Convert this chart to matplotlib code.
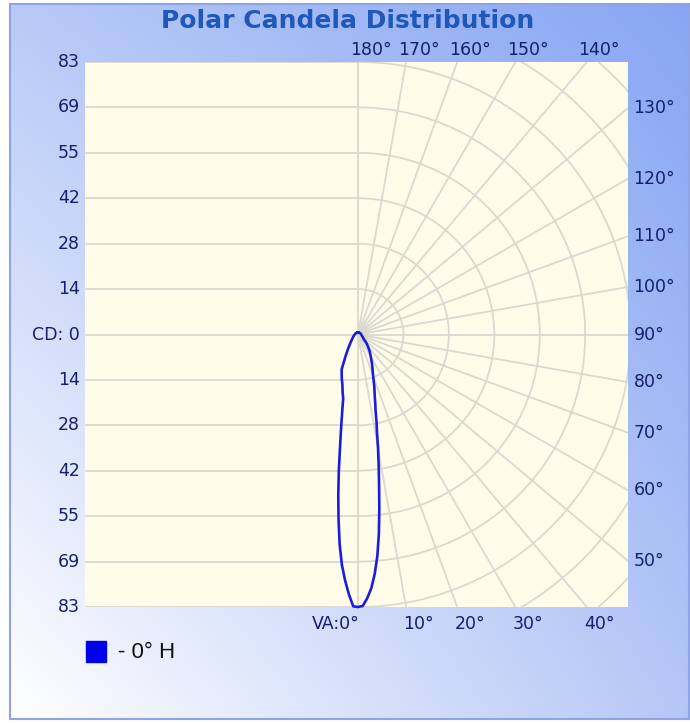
#!/usr/bin/env python3
import numpy as np
import matplotlib.pyplot as plt
from matplotlib.patches import Rectangle

max_cd = 83
cd_labels = ['83', '69', '55', '42', '28', '14', 'CD: 0', '14', '28', '42', '55', '69', '83']

# vertical angles (deg from nadir) and candela values
va_angles = [0, 1, 2, 3, 4, 5, 6, 7, 8, 9, 10, 11, 12, 13, 14, 15, 17.5, 20, 25, 30,
             35, 40, 45, 50, 60, 70, 80, 90, 100, 120, 140, 160, 180]
# right side of the lobe (0° H)
cd_0h = [83, 82.7, 80.4, 77.4, 73.1, 67.7, 60.9, 53.3, 46.1, 40.3, 35.2, 30.3, 27.1,
         23.8, 21.8, 19.8, 16.5, 13.5, 10.2, 7.8, 6.2, 4.7, 3.6, 2.4, 1.7, 1.3, 1.1,
         1.0, 0.9, 0.8, 0.7, 0.7, 0.6]
# left side of the lobe (mirror plane)
cd_180h = [83, 82.8, 79.2, 75.0, 70.3, 64.1, 56.6, 49.2, 41.9, 35.0, 29.9, 25.9, 22.6,
           20.0, 19.0, 18.1, 15.8, 14.4, 11.8, 7.5, 5.2, 3.8, 3.0, 2.4, 1.8, 1.4, 1.2,
           1.0, 0.9, 0.8, 0.7, 0.7, 0.6]
legend_label = '- 0° H'

grid_angles = np.arange(0, 181, 10)
n_rings = 6

grid_col = '#d9d9d0'
label_col = '#15206c'
curve_col = '#1c1ce0'

fig = plt.figure(figsize=(6.9, 7.24), dpi=100)

# background gradient panel
bg = fig.add_axes([0, 0, 1, 1])
bg.axis('off')
tl = np.array([0.72, 0.79, 0.968])
tr = np.array([0.53, 0.65, 0.955])
bl = np.array([1.0, 1.0, 1.0])
br = np.array([0.71, 0.78, 0.965])
u = np.linspace(0, 1, 200)[None, :, None]
v = np.linspace(0, 1, 200)[:, None, None]
grad = (1 - v) * ((1 - u) * tl + u * tr) + v * ((1 - u) * bl + u * br)
bg.imshow(grad, extent=(10, 689, 719, 4), interpolation='bilinear', aspect='auto')
bg.add_patch(Rectangle((10, 4), 679, 715, fill=False, edgecolor='#8ea4e4', lw=1.5))
bg.set_xlim(0, 690)
bg.set_ylim(724, 0)
bg.text(348, 21, 'Polar Candela Distribution', ha='center', va='center',
        fontsize=18, fontweight='bold', color='#1f58b8')
bg.add_patch(Rectangle((86, 641), 20, 21, color='#0000ee'))
bg.text(118, 652, legend_label, ha='left', va='center', fontsize=16,
        family='Liberation Sans', color='#111111')

# plot area
ax = fig.add_axes([85 / 690, 117 / 724, 543 / 690, 545 / 724])
ax.set_facecolor('#fffdea')
xmin, xmax = -83.1, 82.2
ax.set_xlim(xmin, xmax)
ax.set_ylim(-max_cd, max_cd)
for s in ax.spines.values():
    s.set_visible(False)
ax.set_xticks([])
ax.set_yticks([])

step = max_cd / n_rings
tick_vals = np.arange(n_rings, -n_rings - 1, -1) * step

# horizontal lines on the left half
for y in tick_vals:
    ax.plot([xmin, 0], [y, y], color=grid_col, lw=1.3, zorder=1)

# rings on the right half
th = np.linspace(-np.pi / 2, np.pi / 2, 300)
for k in range(1, 10):
    r = k * step
    ax.plot(r * np.cos(th), r * np.sin(th), color=grid_col, lw=1.3, zorder=1)

# radial lines
for a in grid_angles:
    t = np.radians(a)
    ax.plot([0, 300 * np.sin(t)], [0, -300 * np.cos(t)], color=grid_col, lw=1.3, zorder=1)

# candela curve
va = np.radians(va_angles)
xr = np.array(cd_0h) * np.sin(va)
yr = -np.array(cd_0h) * np.cos(va)
xl = -np.array(cd_180h) * np.sin(va)
yl = -np.array(cd_180h) * np.cos(va)
xs = np.concatenate([xr[::-1], xl[1:]])
ys = np.concatenate([yr[::-1], yl[1:]])
ax.plot(xs, ys, color=curve_col, lw=1.9, zorder=3, clip_on=False, solid_joinstyle='round')

# left CD labels
for y, lab in zip(tick_vals, cd_labels):
    ax.annotate(lab, (xmin, y), xytext=(-3.5, 0), textcoords='offset points',
                ha='right', va='center', fontsize=12.5, color=label_col, annotation_clip=False)

# angle labels where radial lines meet the box
for a in grid_angles:
    t = np.radians(a)
    dx, dy = np.sin(t), -np.cos(t)
    lab = f'{a}°'
    if a == 0:
        ax.annotate('VA:0°', (0, -max_cd), xytext=(1, -6), textcoords='offset points',
                    ha='right', va='top', fontsize=12.5, color=label_col, annotation_clip=False)
        continue
    if dy > 0 and dx / dy <= xmax / max_cd:
        x = 0.0 if a == 180 else max_cd * dx / dy
        ax.annotate(lab, (x, max_cd), xytext=(9, 2), textcoords='offset points',
                    ha='center', va='bottom', fontsize=12.5, color=label_col, annotation_clip=False)
    elif dy < 0 and dx / -dy <= xmax / max_cd:
        x = max_cd * dx / -dy
        ax.annotate(lab, (x, -max_cd), xytext=(9, -6), textcoords='offset points',
                    ha='center', va='top', fontsize=12.5, color=label_col, annotation_clip=False)
    else:
        y = xmax * dy / dx
        ax.annotate(lab, (xmax, y), xytext=(4, 0), textcoords='offset points',
                    ha='left', va='center', fontsize=12.5, color=label_col, annotation_clip=False)

fig.savefig('out.png', dpi=100)
